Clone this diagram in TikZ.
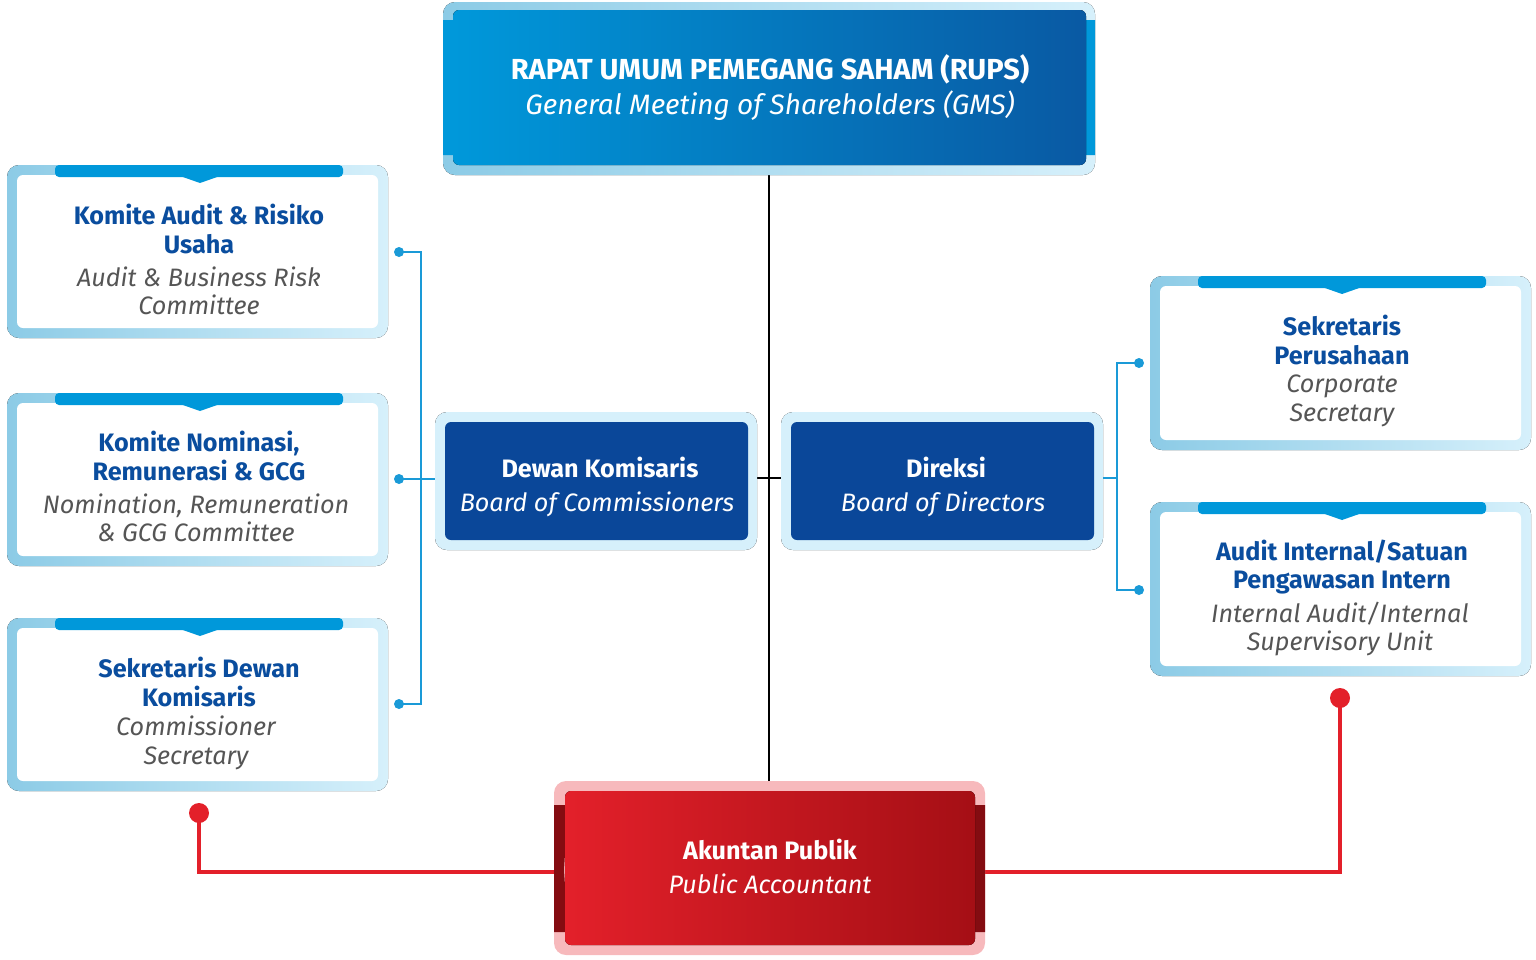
\documentclass[tikz,border=0pt]{standalone}
\usepackage{fontspec}
\setmainfont{Fira Sans}
\usetikzlibrary{calc}
\definecolor{dblue}{HTML}{0A4D9E}
\definecolor{nblue}{HTML}{0A4799}
\definecolor{lblue}{HTML}{1A9AD7}
\definecolor{frameL}{HTML}{8CCBE6}
\definecolor{frameR}{HTML}{D6F0FB}
\definecolor{banner}{HTML}{0098DA}
\definecolor{gtxt}{HTML}{555555}
\definecolor{redL}{HTML}{E3202A}
\definecolor{redR}{HTML}{A50F15}
\definecolor{pinkF}{HTML}{F7B9BC}
\definecolor{lred}{HTML}{E3202A}
\begin{document}
\begin{tikzpicture}[x=0.5pt,y=-0.5pt,
  frame/.style={rounded corners=6pt,left color=frameL,right color=frameR},
  inner/.style={fill=white,rounded corners=3pt},
  tb/.style={font=\bfseries\fontsize{12.6}{14.2}\selectfont,text=dblue,align=center},
  ti/.style={font=\itshape\fontsize{12.6}{14.2}\selectfont,text=gtxt,align=center},
  wb/.style={font=\bfseries\fontsize{12.6}{14}\selectfont,text=white,align=center},
  wi/.style={font=\itshape\fontsize{12.6}{14}\selectfont,text=white,align=center},
  bl/.style={lblue,line width=1.2pt},
  rl/.style={lred,line width=1.7pt},
  dot/.style={circle,fill=lblue,inner sep=0,minimum size=5pt},
  rdot/.style={circle,fill=lred,inner sep=0,minimum size=10pt}]
\useasboundingbox (0,0) rectangle (1536,959);
% connectors (behind)
\draw[black,line width=0.8pt] (769,175) -- (769,781);
\draw[black,line width=0.8pt] (757,478) -- (781,478);
% top box
\fill[rounded corners=6pt,left color=frameL,right color=frameR] (443,2) rectangle (1095,175);
\fill[banner] (443,20) -- (461,20) -- (455,90) -- (461,155) -- (443,155) -- cycle;
\fill[banner] (1095,20) -- (1085,20) -- (1080,90) -- (1085,155) -- (1095,155) -- cycle;
\fill[rounded corners=3pt,left color=banner,right color=nblue!90!cyan] (453,10) rectangle (1086,165);
\node[wb,font=\bfseries\fontsize{14.5}{16}\selectfont] (rups) at (770,69) {RAPAT UMUM PEMEGANG SAHAM (RUPS)};
\node[wi,font=\itshape\fontsize{14}{16}\selectfont] (gms) at (770,106) {General Meeting of Shareholders (GMS)};
% left boxes
\foreach \y/\n in {165/L1,393/L2,618/L3}{
  \fill[frame] (7,\y) rectangle (388,\y+173);
  \fill[inner] (17,\y+10) rectangle (378,\y+163);
  \fill[banner,rounded corners=2pt] (55,\y) rectangle (343,\y+12);
  \fill[banner] (180,\y+11) -- (200,\y+18) -- (220,\y+11) -- cycle;
}
\node[tb] at (199,229) {Komite Audit \& Risiko\\Usaha};
\node[ti] at (199,291) {Audit \& Business Risk\\Committee};
\node[tb] at (199,456) {Komite Nominasi,\\Remunerasi \& GCG};
\node[ti] at (196,518) {Nomination, Remuneration\\\& GCG Committee};
\node[tb] at (199,682) {Sekretaris Dewan\\Komisaris};
\node[ti] at (196,743) {Commissioner\\Secretary};
% right boxes
\foreach \y in {276,502}{
  \fill[frame] (1150,\y) rectangle (1531,\y+174);
  \fill[inner] (1160,\y+10) rectangle (1521,\y+164);
  \fill[banner,rounded corners=2pt] (1198,\y) rectangle (1486,\y+12);
  \fill[banner] (1322,\y+11) -- (1342,\y+18) -- (1362,\y+11) -- cycle;
}
\node[tb] at (1342,340) {Sekretaris\\Perusahaan};
\node[ti] at (1342,401) {Corporate\\Secretary};
\node[tb] at (1342,567) {Audit Internal/Satuan\\Pengawasan Intern};
\node[ti] at (1340,629) {Internal Audit/Internal\\Supervisory Unit};
% middle boxes
\fill[frame,left color=frameR,right color=frameR] (435,412) rectangle (757,550);
\fill[nblue,rounded corners=3pt] (445,422) rectangle (748,540);
\node[wb] (dk) at (600,467) {Dewan Komisaris};
\node[wi] at (597,504) {Board of Commissioners};
\fill[frame,left color=frameR,right color=frameR] (781,412) rectangle (1103,550);
\fill[nblue,rounded corners=3pt] (791,422) rectangle (1094,540);
\node[wb] (dir) at (946,467) {Direksi};
\node[wi] at (943,504) {Board of Directors};
% blue brackets
\draw[bl] (399,252) -- (421,252) -- (421,704) -- (399,704);
\draw[bl] (399,479) -- (435,479);
\node[dot] at (399,252) {}; \node[dot] at (399,479) {}; \node[dot] at (399,704) {};
\draw[bl] (1139,363) -- (1117,363) -- (1117,590) -- (1139,590);
\draw[bl] (1103,478) -- (1117,478);
\node[dot] at (1139,363) {}; \node[dot] at (1139,590) {};
% red
\draw[rl] (199,813) -- (199,872) -- (554,872);
\draw[rl] (985,872) -- (1340,872) -- (1340,698);
\node[rdot] at (199,813) {}; \node[rdot] at (1340,698) {};
\fill[rounded corners=6pt,fill=pinkF] (554,781) rectangle (985,955);
\fill[redR!80!black] (554,805) -- (568,805) -- (564,870) -- (568,932) -- (554,932) -- cycle;
\fill[redR!80!black] (985,805) -- (971,805) -- (975,870) -- (971,932) -- (985,932) -- cycle;
\fill[rounded corners=3pt,left color=redL,right color=redR] (565,791) rectangle (975,945);
\node[wb] (ak) at (770,849) {Akuntan Publik};
\node[wi] at (770,884) {Public Accountant};
\end{tikzpicture}
\end{document}
